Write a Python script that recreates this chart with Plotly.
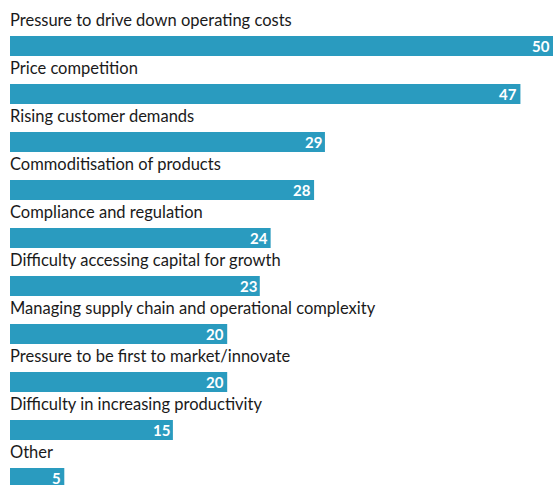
import plotly.graph_objects as go

categories = [
    "Pressure to drive down operating costs",
    "Price competition",
    "Rising customer demands",
    "Commoditisation of products",
    "Compliance and regulation",
    "Difficulty accessing capital for growth",
    "Managing supply chain and operational complexity",
    "Pressure to be first to market/innovate",
    "Difficulty in increasing productivity",
    "Other",
]
values = [50, 47, 29, 28, 24, 23, 20, 20, 15, 5]

BAR_COLOR = "#2a9bbf"
LABEL_FONT = "Lato"

positions = list(range(len(categories)))

fig = go.Figure(
    go.Bar(
        x=values,
        y=positions,
        orientation="h",
        marker=dict(color=BAR_COLOR, line=dict(width=0)),
        width=20 / 48,
        hoverinfo="skip",
    )
)

annotations = []
for i, (cat, v) in enumerate(zip(categories, values)):
    annotations.append(
        dict(
            x=0, xref="x", xanchor="left", xshift=-2,
            y=i - 0.5, yref="y", yanchor="middle", yshift=2,
            text=cat, showarrow=False,
            font=dict(family=LABEL_FONT, size=16.5, color="#1a1a1a"),
        )
    )
    annotations.append(
        dict(
            x=v, xref="x", xanchor="right", xshift=-1,
            y=i, yref="y", yanchor="middle",
            text="<b>%d</b>" % v, showarrow=False,
            font=dict(family=LABEL_FONT, size=15, color="white"),
        )
    )

fig.update_layout(
    width=553, height=485,
    margin=dict(l=10, r=0, t=0, b=0),
    paper_bgcolor="white", plot_bgcolor="white",
    showlegend=False,
    xaxis=dict(range=[0, 50], visible=False, fixedrange=True),
    yaxis=dict(range=[(485 - 46) / 48, -46 / 48], visible=False, fixedrange=True),
    annotations=annotations,
)

fig.write_html(
    "out.html",
    config={"displayModeBar": False},
    post_script="document.body.style.margin='0';document.body.style.overflow='hidden';",
)
